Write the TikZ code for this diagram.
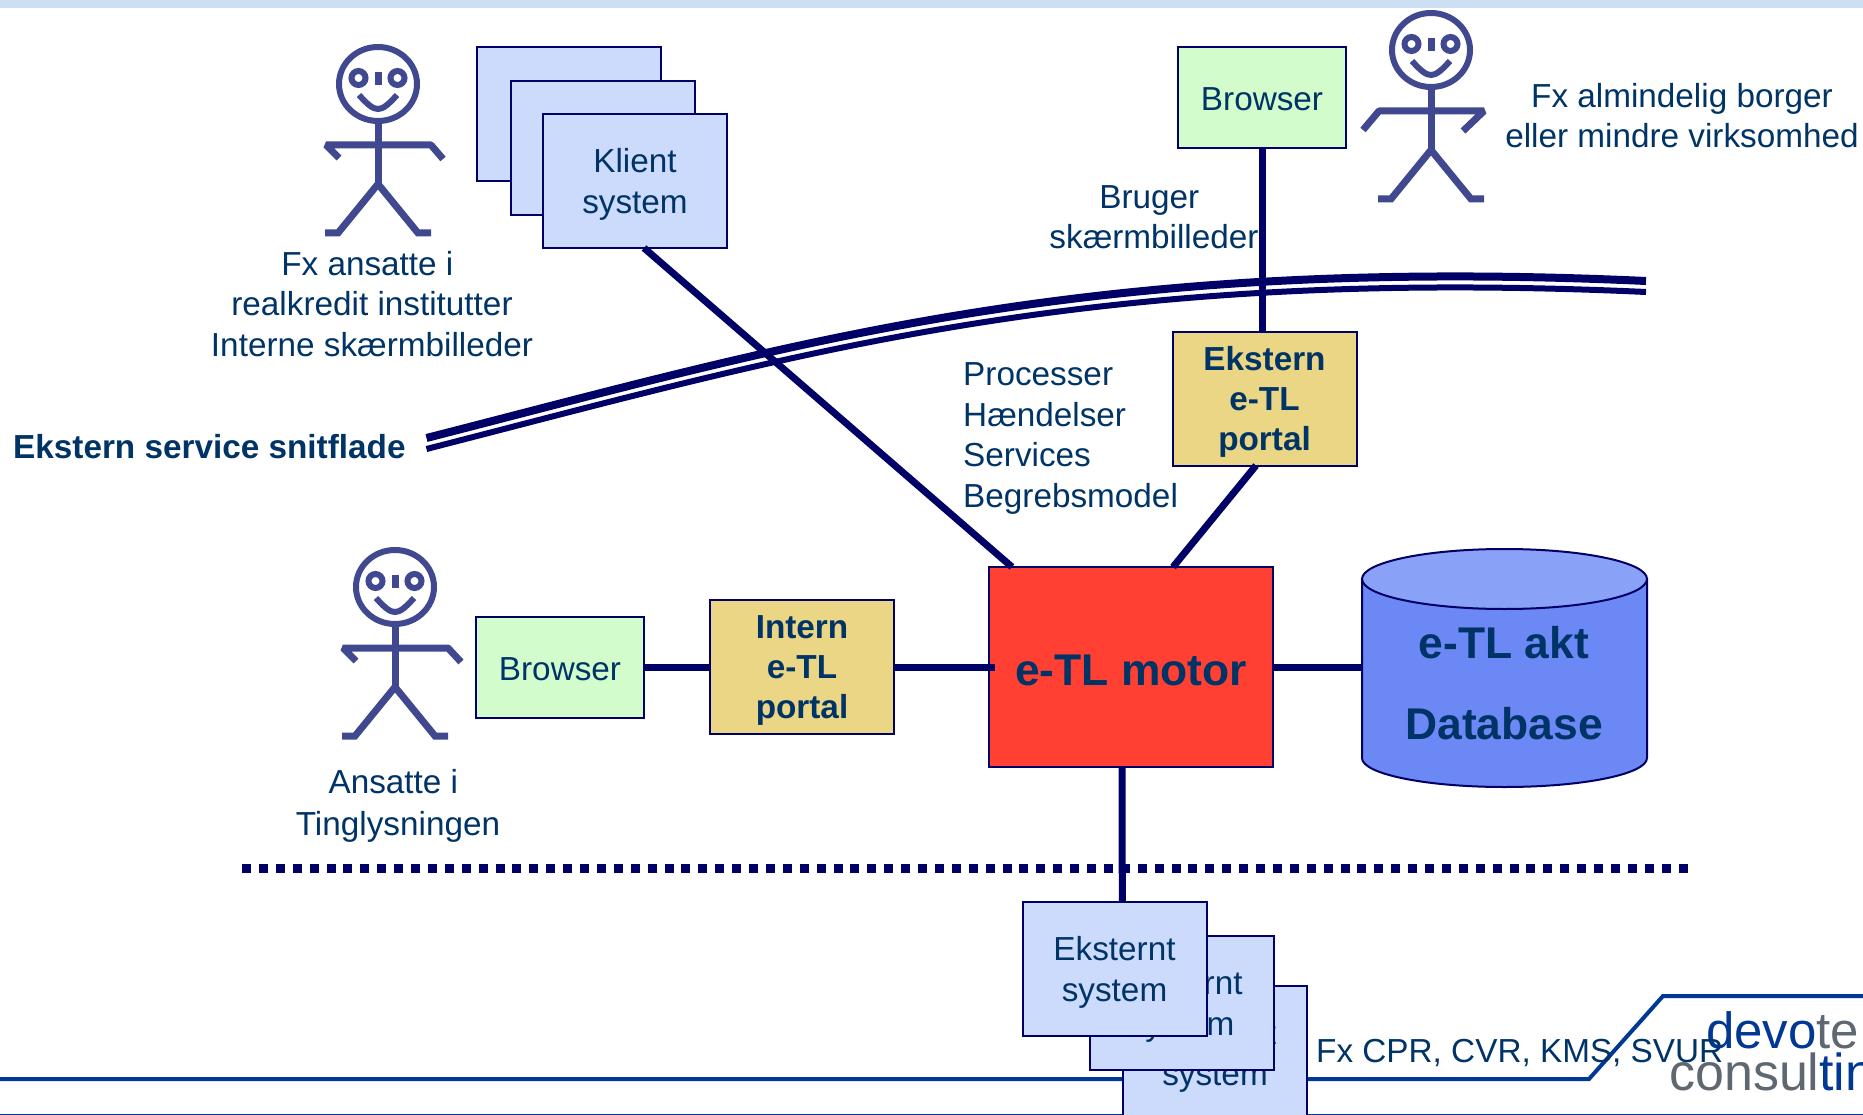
\documentclass[tikz,border=0pt]{standalone}
\usepackage{fontspec}
\setmainfont{Liberation Sans}

\definecolor{linjeblaa}{HTML}{000066}
\definecolor{tekstblaa}{HTML}{003366}
\definecolor{mandblaa}{HTML}{404890}
\definecolor{kantblaa}{HTML}{003893}
\definecolor{logograa}{HTML}{5F6870}
\definecolor{systemfyld}{HTML}{CCDAFC}
\definecolor{browserfyld}{HTML}{D2FCCC}
\definecolor{portalfyld}{HTML}{EAD684}
\definecolor{motorfyld}{HTML}{FF4033}
\definecolor{dbfyld}{HTML}{6C88F5}
\definecolor{dbtop}{HTML}{8AA1F8}
\definecolor{baand}{HTML}{CCDFF3}

\tikzset{
    tekst/.style={text=tekstblaa, font=\fontsize{33.3}{40.4}\selectfont, align=center, inner sep=0pt},
    boks/.style={draw=linjeblaa, line width=2pt, inner sep=0pt, outer sep=0pt, tekst, text depth=-2.5pt, execute at begin node={\rule{0pt}{27pt}}},
    systemboks/.style={boks, fill=systemfyld, minimum width=184pt, minimum height=134pt},
    browserboks/.style={boks, fill=browserfyld, minimum width=168pt, minimum height=101pt},
    portalboks/.style={boks, fill=portalfyld, minimum width=184pt, minimum height=134pt, font=\fontsize{33.3}{40.4}\selectfont\bfseries},
    linje/.style={draw=linjeblaa, line width=7pt},
    pics/stickman/.style n args={4}{code={
        \draw[mandblaa, line width=6pt] (0,0) ellipse[x radius=39, y radius=37];
        \draw[mandblaa, line width=6pt] (-19.5,-6) circle[radius=7];
        \draw[mandblaa, line width=6pt] (19.5,-6) circle[radius=7];
        \fill[mandblaa] (-3.5,-12) rectangle (3.5,1);
        \draw[mandblaa, line width=6pt] (-19,11) .. controls (-10,21) and (-5,25) .. (0,25) .. controls (5,25) and (10,21) .. (19,11);
        \draw[mandblaa, line width=7pt] (0,37) -- (0,100);
        \draw[mandblaa, line width=7pt, line join=bevel] (#1,#2) -- (-52,61) -- (53,61) -- (#3,#4);
        \draw[mandblaa, line width=7pt] (-53,149) -- (-40,149) -- (0,100) -- (40,149) -- (53,149);
    }},
}

\begin{document}
\begin{tikzpicture}[x=1pt, y=-1pt]
    \useasboundingbox (0,0) rectangle (1863,1115);
    \fill[baand] (0,0) rectangle (1863,8);

    % bundlinjer og logo
    \coordinate (bundA) at (0,1114.5);
    \coordinate (bundB) at (1863,1114.5);
    \coordinate (kantA) at (0,1079);
    \coordinate (kantB) at (1589,1079);
    \coordinate (kantC) at (1663,996);
    \coordinate (kantD) at (1863,996);
    \draw[kantblaa, line width=1.5pt] (bundA) -- (bundB);
    \draw[kantblaa, line width=4pt] (kantA) -- (kantB) -- (kantC) -- (kantD);
    \node[anchor=base west, inner sep=0pt, font=\fontsize{51}{51}\selectfont] (devote) at (1706,1048) {\textcolor{kantblaa}{devo}\textcolor{logograa}{te}};
    \node[anchor=base west, inner sep=0pt, font=\fontsize{52}{52}\selectfont] (consulting) at (1669,1090) {\textcolor{logograa}{consul}\textcolor{kantblaa}{tin}};

    % mænd
    \pic (mandA) at (378,84) {stickman={-39}{74}{65}{75}};
    \pic (mandB) at (1431,50) {stickman={-68}{80}{32}{81}};
    \pic (mandC) at (395,587) {stickman={-39}{74}{66}{75}};

    % grænseflader
    \coordinate (snitA) at (426.5,438);
    \coordinate (snitB) at (1646,281);
    \coordinate (snitC) at (426.5,449);
    \coordinate (snitD) at (1646,292);
    \draw[linjeblaa, line width=8pt] (snitA) .. controls (790,345) and (1080,255) .. (snitB);
    \draw[linjeblaa, line width=6pt] (snitC) .. controls (790,356) and (1080,266) .. (snitD);
    \coordinate (stiplA) at (242,868);
    \coordinate (stiplB) at (1688,868);
    \draw[linjeblaa, line width=9pt, dash pattern=on 9pt off 7.9pt] (stiplA) -- (stiplB);

    % bokse
    \foreach \i in {0, 1} {
        \node[systemboks] (klient\i) at (568.5 + 34 * \i, 114.5 + 33.5 * \i) {};
    }
    \node[systemboks] (klient) at (635,181) {Klient\\system};
    \foreach \n/\x/\y in {eksC/1215/1053, eksB/1181.5/1003, eksA/1114.5/969} {
        \node[systemboks] (\n) at (\x,\y) {Eksternt\\system};
    }
    \node[browserboks] (browserA) at (1262,97.5) {Browser};
    \node[browserboks] (browserB) at (560,667) {Browser};
    \node[portalboks] (portalA) at (1264.5,398.5) {Ekstern\\e-TL\\portal};
    \node[portalboks] (portalB) at (802,667) {Intern\\e-TL\\portal};
    \node[draw=linjeblaa, line width=2pt, fill=motorfyld, minimum width=284pt, minimum height=200pt, inner sep=0pt, outer sep=0pt, text=tekstblaa, text depth=0pt, font=\fontsize{44.4}{50}\selectfont\bfseries, execute at begin node={\rule{0pt}{37pt}}] (motor) at (1131,667) {e-TL motor};

    % database
    \draw[draw=linjeblaa, line width=2pt, fill=dbfyld] (1362,579) -- (1362,758) arc[start angle=180, end angle=0, x radius=142.5, y radius=29] -- (1647,579) -- cycle;
    \draw[draw=linjeblaa, line width=2pt, fill=dbtop] (1504.5,579) ellipse[x radius=142.5, y radius=30];
    \node[minimum width=285pt, minimum height=238pt, inner sep=0pt, outer sep=0pt] (db) at (1504.5,667) {};
    \node[tekst, font=\fontsize{44.4}{81}\selectfont\bfseries] (dbtekst) at (1504,683) {e-TL akt\\Database};

    % forbindelser
    \draw[linje] ([xshift=9pt]klient.south) -- ([xshift=-119pt]motor.north);
    \draw[linje] (browserA.south) -- (browserA.south |- portalA.north);
    \draw[linje] ([xshift=-8.5pt]portalA.south) -- ([xshift=42pt]motor.north);
    \draw[linje] (browserB) -- (portalB);
    \draw[linje] (portalB) -- ([xshift=6pt]motor.west);
    \draw[linje] (motor) -- (db);
    \draw[linje] ([xshift=-9pt]motor.south) -- ([xshift=7.8pt]eksA.north);

    % tekster
    \node[tekst] (ansatte) at (372,304) {Fx ansatte i\hspace*{9.3pt}\\realkredit institutter\\Interne skærmbilleder};
    \node[tekst] (bruger) at (1154,217) {Bruger\hspace*{9.3pt}\\skærmbilleder};
    \node[tekst] (borger) at (1682,115.5) {Fx almindelig borger\\eller mindre virksomhed};
    \node[tekst, anchor=west, align=left] (processer) at (963,438.5) {Processer\\Hændelser\\Services\\Begrebsmodel};
    \node[tekst, anchor=west, font=\fontsize{33.3}{40.4}\selectfont\bfseries] (snitflade) at (13,447) {Ekstern service snitflade};
    \node[tekst, font=\fontsize{33.3}{41.5}\selectfont] (tinglysning) at (398,806) {Ansatte i\hspace*{9.3pt}\\Tinglysningen};
    \node[tekst, anchor=west] (fxcpr) at (1316,1053) {Fx CPR, CVR, KMS, SVUR};
\end{tikzpicture}
\end{document}
